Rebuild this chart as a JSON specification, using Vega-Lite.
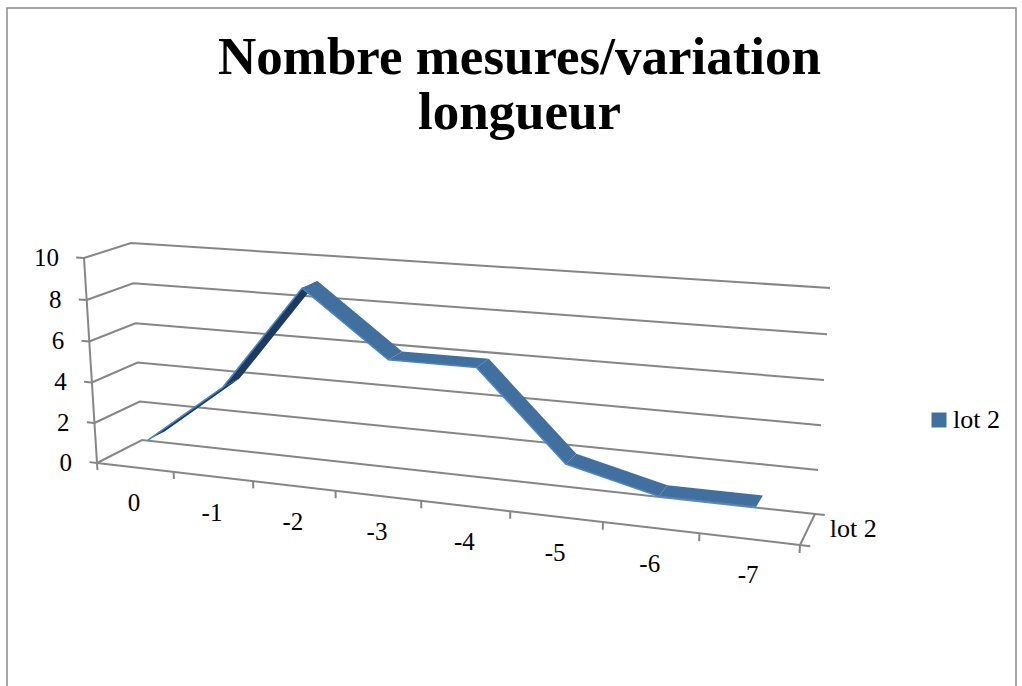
{
"$schema":"https://vega.github.io/schema/vega-lite/v6.json",
"width":1009,"height":700,
"autosize":"none",
"padding":{"left":7,"top":8,"right":6,"bottom":0},
"background":"white",
"config":{"view":{"stroke":"#8a8a8a","strokeWidth":1.5},"text":{"font":"Liberation Serif"}},
"title":{"text":["Nombre mesures/variation","longueur"],"font":"Liberation Serif","fontWeight":"bold","fontSize":53,"lineHeight":55,"color":"#000000","anchor":"middle","frame":"group","orient":"top","baseline":"top","offset":0,"dy":132,"dx":8},
"datasets":{
"series":[
{"cat":"0","u":0.5,"value":1,"series":"lot 2"},
{"cat":"-1","u":1.5,"value":4,"series":"lot 2"},
{"cat":"-2","u":2.5,"value":9,"series":"lot 2"},
{"cat":"-3","u":3.5,"value":6,"series":"lot 2"},
{"cat":"-4","u":4.5,"value":6,"series":"lot 2"},
{"cat":"-5","u":5.5,"value":2,"series":"lot 2"},
{"cat":"-6","u":6.5,"value":1,"series":"lot 2"},
{"cat":"-7","u":7.5,"value":1,"series":"lot 2"}
],
"frame":[
{"id":"g0","k":[0,1,2],"u":[0,0,8.1],"d":[0,1,1],"v":[0,0,0]},
{"id":"g2","k":[0,1,2],"u":[0,0,8],"d":[0,1,1],"v":[2,2,2]},
{"id":"g4","k":[0,1,2],"u":[0,0,8],"d":[0,1,1],"v":[4,4,4]},
{"id":"g6","k":[0,1,2],"u":[0,0,8],"d":[0,1,1],"v":[6,6,6]},
{"id":"g8","k":[0,1,2],"u":[0,0,8],"d":[0,1,1],"v":[8,8,8]},
{"id":"g10","k":[0,1,2],"u":[0,0,8],"d":[0,1,1],"v":[10,10,10]},
{"id":"vaxis","k":[0,1],"u":[0,0],"d":[0,0],"v":[0,10]},
{"id":"front","k":[0,1],"u":[0,8.1],"d":[0,0],"v":[0,0]},
{"id":"right","k":[0,1],"u":[8,8],"d":[0,1],"v":[0,0]},
{"id":"t0","k":[0,1],"u":[-0.1,0],"d":[0,0],"v":[0,0]},
{"id":"t2","k":[0,1],"u":[-0.1,0],"d":[0,0],"v":[2,2]},
{"id":"t4","k":[0,1],"u":[-0.1,0],"d":[0,0],"v":[4,4]},
{"id":"t6","k":[0,1],"u":[-0.1,0],"d":[0,0],"v":[6,6]},
{"id":"t8","k":[0,1],"u":[-0.1,0],"d":[0,0],"v":[8,8]},
{"id":"t10","k":[0,1],"u":[-0.1,0],"d":[0,0],"v":[10,10]},
{"id":"c0","k":[0,1],"u":[0,0],"d":[0,0],"v":[0,-0.35]},
{"id":"c1","k":[0,1],"u":[1,1],"d":[0,0],"v":[0,-0.35]},
{"id":"c2","k":[0,1],"u":[2,2],"d":[0,0],"v":[0,-0.35]},
{"id":"c3","k":[0,1],"u":[3,3],"d":[0,0],"v":[0,-0.35]},
{"id":"c4","k":[0,1],"u":[4,4],"d":[0,0],"v":[0,-0.35]},
{"id":"c5","k":[0,1],"u":[5,5],"d":[0,0],"v":[0,-0.35]},
{"id":"c6","k":[0,1],"u":[6,6],"d":[0,0],"v":[0,-0.35]},
{"id":"c7","k":[0,1],"u":[7,7],"d":[0,0],"v":[0,-0.35]},
{"id":"c8","k":[0,1],"u":[8,8],"d":[0,0],"v":[0,-0.35]}
],
"ylabels":[
{"t":"0","v":0},{"t":"2","v":2},{"t":"4","v":4},{"t":"6","v":6},{"t":"8","v":8},{"t":"10","v":10}
]
},
"layer":[
{
"data":{"name":"frame"},
"transform":[
{"flatten":["k","u","d","v"]},
{"calculate":"1-0.018*datum.u+0.04779*datum.d","as":"w"},
{"calculate":"datum.v/10","as":"s"},
{"calculate":"(97+73.475*datum.u+51.79*datum.d)/datum.w+datum.s*(-13+2*datum.d+3.25*datum.u)","as":"sx"},
{"calculate":"(463+0.44*datum.u-1.97*datum.d)/datum.w-datum.s*(1-0.03*(1-datum.s))*(205-8*datum.d+3.625*datum.u)","as":"sy"}
],
"mark":{"type":"line","color":"#868686","strokeWidth":2,"clip":true},
"encoding":{
"x":{"field":"sx","type":"quantitative","scale":{"domain":[7,1016],"nice":false,"zero":false},"axis":null},
"y":{"field":"sy","type":"quantitative","scale":{"domain":[708,8],"nice":false,"zero":false},"axis":null},
"detail":{"field":"id"},
"order":{"field":"k"}
}
},
{
"data":{"name":"series"},
"transform":[
{"window":[{"op":"lead","field":"value","as":"v1"},{"op":"lead","field":"u","as":"u1"}],"sort":[{"field":"u"}]},
{"filter":"datum.u1!=null"},
{"calculate":"datum.u<2?'under':datum.series","as":"face"},
{"calculate":"datum.u","as":"seg"},
{"calculate":"[0,1,2,3]","as":"k"},
{"flatten":["k"]},
{"calculate":"datum.k<2?0.31:0.7","as":"d"},
{"calculate":"(datum.k==0||datum.k==3)?datum.value:datum.v1","as":"v"},
{"calculate":"(datum.k==0||datum.k==3)?datum.u:datum.u1","as":"u"},
{"calculate":"1-0.018*datum.u+0.04779*datum.d","as":"w"},
{"calculate":"datum.v/10","as":"s"},
{"calculate":"(97+73.475*datum.u+51.79*datum.d)/datum.w+datum.s*(-13+2*datum.d+3.25*datum.u)","as":"sx"},
{"calculate":"(463+0.44*datum.u-1.97*datum.d)/datum.w-datum.s*(1-0.03*(1-datum.s))*(205-8*datum.d+3.625*datum.u)","as":"sy"}
],
"mark":{"type":"line","filled":true,"strokeWidth":0},
"encoding":{
"x":{"field":"sx","type":"quantitative","scale":{"domain":[7,1016],"nice":false,"zero":false},"axis":null},
"y":{"field":"sy","type":"quantitative","scale":{"domain":[708,8],"nice":false,"zero":false},"axis":null},
"detail":{"field":"seg"},
"order":{"field":"k"},
"fill":{"field":"face","type":"nominal","title":null,"scale":{"domain":["lot 2","under"],"range":["#41709f","#1f3a5f"]},
"legend":{"values":["lot 2"],"orient":"none","legendX":919,"legendY":399,"symbolType":"square","symbolSize":225,"symbolStrokeWidth":0,"labelFont":"Liberation Serif","labelFontSize":26,"labelColor":"#000000","labelOffset":1,"encode":{"symbols":{"update":{"fill":{"value":"#4f81bd"},"stroke":{"value":"#4f81bd"}}}}}}
}
},
{
"data":{"name":"series"},
"transform":[
{"calculate":"0.31","as":"d"},
{"calculate":"datum.value","as":"v"},
{"calculate":"1-0.018*datum.u+0.04779*datum.d","as":"w"},
{"calculate":"datum.v/10","as":"s"},
{"calculate":"(97+73.475*datum.u+51.79*datum.d)/datum.w+datum.s*(-13+2*datum.d+3.25*datum.u)","as":"sx"},
{"calculate":"(463+0.44*datum.u-1.97*datum.d)/datum.w-datum.s*(1-0.03*(1-datum.s))*(205-8*datum.d+3.625*datum.u)","as":"sy"}
],
"mark":{"type":"line","color":"#4a86c6","strokeWidth":1.6},
"encoding":{
"x":{"field":"sx","type":"quantitative","scale":{"domain":[7,1016],"nice":false,"zero":false},"axis":null},
"y":{"field":"sy","type":"quantitative","scale":{"domain":[708,8],"nice":false,"zero":false},"axis":null},
"order":{"field":"u"}
}
},
{
"data":{"name":"series"},
"transform":[
{"calculate":"1-0.018*datum.u","as":"w"},
{"calculate":"(97+73.475*datum.u)/datum.w","as":"sx"},
{"calculate":"(463+0.44*datum.u)/datum.w","as":"sy"}
],
"mark":{"type":"text","font":"Liberation Serif","fontSize":25,"color":"#000000","align":"center","baseline":"middle","dy":36,"dx":-1},
"encoding":{
"x":{"field":"sx","type":"quantitative","scale":{"domain":[7,1016],"nice":false,"zero":false},"axis":null},
"y":{"field":"sy","type":"quantitative","scale":{"domain":[708,8],"nice":false,"zero":false},"axis":null},
"text":{"field":"cat"}
}
},
{
"data":{"name":"ylabels"},
"transform":[
{"calculate":"97-13*datum.v/10","as":"sx"},
{"calculate":"463-205*(datum.v/10)*(1-0.03*(1-datum.v/10))","as":"sy"}
],
"mark":{"type":"text","font":"Liberation Serif","fontSize":25,"color":"#000000","align":"right","baseline":"middle","dx":-25},
"encoding":{
"x":{"field":"sx","type":"quantitative","scale":{"domain":[7,1016],"nice":false,"zero":false},"axis":null},
"y":{"field":"sy","type":"quantitative","scale":{"domain":[708,8],"nice":false,"zero":false},"axis":null},
"text":{"field":"t"}
}
},
{
"data":{"values":[{"name":"lot 2","u":8,"d":0.5}]},
"transform":[
{"calculate":"1-0.018*datum.u+0.04779*datum.d","as":"w"},
{"calculate":"(97+73.475*datum.u+51.79*datum.d)/datum.w","as":"sx"},
{"calculate":"(463+0.44*datum.u-1.97*datum.d)/datum.w","as":"sy"}
],
"mark":{"type":"text","font":"Liberation Serif","fontSize":26,"color":"#000000","align":"left","baseline":"middle","dx":22},
"encoding":{
"x":{"field":"sx","type":"quantitative","scale":{"domain":[7,1016],"nice":false,"zero":false},"axis":null},
"y":{"field":"sy","type":"quantitative","scale":{"domain":[708,8],"nice":false,"zero":false},"axis":null},
"text":{"field":"name"}
}
}
]
}
